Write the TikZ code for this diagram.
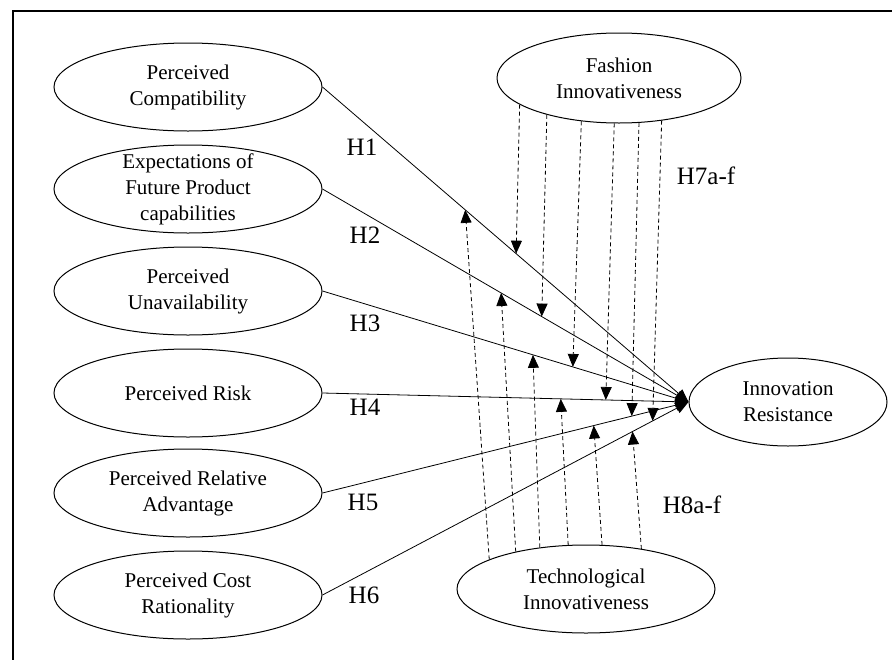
\documentclass[tikz,border=0pt]{standalone}
\usepackage{fontspec}
\setmainfont{Liberation Serif}
\usetikzlibrary{shapes.geometric,arrows.meta,calc}

\begin{document}
\begin{tikzpicture}[x=1pt,y=-1pt,
  var/.style={draw,ellipse,line width=1pt,minimum width=268pt,minimum height=88pt,
    inner xsep=0pt,inner ysep=-5pt,align=center,font=\fontsize{21}{26}\selectfont},
  path/.style={line width=0.8pt,-{Triangle[length=13pt,width=11pt]}},
  mod/.style={line width=0.8pt,dash pattern=on 4pt off 3pt,-{Triangle[length=13pt,width=11pt]}},
  hyp/.style={font=\fontsize{25}{30}\selectfont}]
\useasboundingbox (0,0) rectangle (892,659);
\begin{scope}
\clip (0,0) rectangle (892,659);
\draw[line width=1.3pt] (13,11) rectangle (910,680);
\end{scope}

\node[var] (pc) at (188,87) {Perceived\\Compatibility};
\node[var] (ef) at (188,189) {Expectations of\\Future Product\\capabilities};
\node[var] (pu) at (188,291) {Perceived\\Unavailability};
\node[var] (pr) at (188,393) {Perceived Risk};
\node[var] (pa) at (188,493) {Perceived Relative\\Advantage};
\node[var] (pcr) at (188,595) {Perceived Cost\\Rationality};
\node[var,minimum width=244pt,minimum height=90pt] (fi) at (619,78) {Fashion\\Innovativeness};
\node[var,minimum width=258pt,minimum height=88pt] (ti) at (586,589) {Technological\\Innovativeness};
\node[var,minimum width=198pt,minimum height=88pt] (ir) at (788,402) {Innovation\\Resistance};

\foreach \n/\x/\y [count=\i] in {pc/362/147, ef/365/235, pu/365/323, pr/365/407, pa/363/502, pcr/364/595}{
  \draw[path] (\n.east) -- (ir.west);
  \node[hyp] (h\i) at (\x,\y) {H\i};
}

\foreach \a/\n/\t [count=\i] in {195/pc/0.529, 207/ef/0.599, 229/pu/0.684, 264/pr/0.774, 294/pa/0.845, 315/pcr/0.902}{
  \coordinate (f\i) at ($(\n.east)!\t!(ir.west)$);
  \draw[mod] (fi.\a) -- (f\i);
}
\foreach \a/\n/\t [count=\i] in {163/pc/0.390, 152/ef/0.488, 138/pu/0.575, 112/pr/0.651, 70/pa/0.741, 36/pcr/0.847}{
  \coordinate (t\i) at ($(\n.east)!\t!(ir.west)$);
  \draw[mod] (ti.\a) -- (t\i);
}

\node[hyp] (h7) at (706,176) {H7a-f};
\node[hyp] (h8) at (692,505) {H8a-f};

\end{tikzpicture}
\end{document}
